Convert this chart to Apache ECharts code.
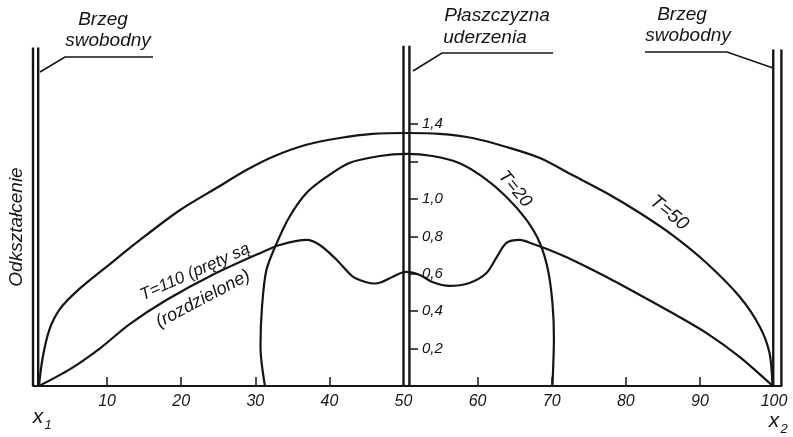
<!DOCTYPE html>
<html>
<head>
<meta charset="utf-8">
<script src="https://cdn.jsdelivr.net/npm/echarts@6/dist/echarts.min.js"></script>
<style>
  html, body { margin: 0; padding: 0; background: #fff; }
  #chart { width: 793px; height: 437px; }
</style>
</head>
<body>
<div id="chart"></div>
<script>
// Strain profiles along two colliding bars (x1 .. x2), at several times T
const t50X = [0.8, 1.3, 2.2, 3.6, 6.0, 10.0, 14.4, 19.8, 24.8, 28.8, 32.3, 36.9, 41.4, 45.8, 50.4, 54.9, 59.3, 63.9, 68.4, 72.8, 77.4, 81.9, 86.3, 90.9, 95.4, 98.1, 99.4, 99.8];
const t50Y = [0, 0.15, 0.3, 0.41, 0.51, 0.64, 0.78, 0.94, 1.06, 1.155, 1.225, 1.29, 1.326, 1.348, 1.353, 1.348, 1.326, 1.278, 1.219, 1.128, 1.032, 0.925, 0.807, 0.658, 0.476, 0.316, 0.176, 0];

const t20X = [31.3, 30.7, 30.9, 31.5, 32.9, 34.6, 36.9, 39.6, 42.7, 46.8, 50.4, 53.9, 57.5, 60.7, 63.9, 66.6, 68.4, 69.5, 70.1, 70.3, 70.1];
const t20Y = [0, 0.21, 0.42, 0.62, 0.765, 0.904, 1.032, 1.118, 1.193, 1.23, 1.241, 1.23, 1.193, 1.118, 1.011, 0.888, 0.765, 0.62, 0.444, 0.262, 0];

const t110X = [0.8, 5.0, 9.0, 13.0, 18.0, 24.0, 31.0, 33.3, 36.9, 38.7, 41.0, 43.2, 45.0, 46.0, 47.0, 48.5, 50.3, 52.2, 53.9, 56.2, 58.9, 61.2, 62.6, 63.9, 65.7, 67.5, 69.7, 72.8, 77.4, 81.9, 86.3, 90.9, 95.4, 99.4, 99.8];
const t110Y = [0, 0.09, 0.2, 0.33, 0.46, 0.59, 0.717, 0.754, 0.781, 0.754, 0.674, 0.583, 0.555, 0.548, 0.555, 0.583, 0.61, 0.594, 0.556, 0.535, 0.551, 0.604, 0.69, 0.765, 0.781, 0.759, 0.727, 0.674, 0.583, 0.487, 0.39, 0.283, 0.155, 0.016, 0];

// Bar ends and impact plane, each drawn as a double line
const wallX = [0, 0.7, 50, 50.8, 99.9, 101];
const wallTop = [1.81, 1.81, 1.82, 1.82, 1.80, 1.80];

// Axis ticks and labels
const xTickValues = [10, 20, 30, 40, 60, 70, 80, 90];
const xLabelValues = [10, 20, 30, 40, 50, 60, 70, 80, 90, 100];
const yTickValues = [0.2, 0.4, 0.6, 0.8, 1.0, 1.2, 1.4];
const yLabelValues = [0.2, 0.4, 0.6, 0.8, 1.0, 1.4];

const curveLabels = ['T=20', 'T=50', 'T=110 (pręty są', '(rozdzielone)'];
const noteLabels = ['Brzeg', 'swobodny', 'Płaszczyzna', 'uderzenia'];
const axisTitle = 'Odkształcenie';

const FAMILY = '"Liberation Sans", Arial, sans-serif';
const INK = '#151515';

function curve(name, xs, ys) {
  return {
    type: 'line', name: name, silent: true, z: 3,
    data: xs.map((x, i) => [x, ys[i]]),
    smooth: 0.3, symbol: 'none',
    lineStyle: { color: INK, width: 2.2 }
  };
}

const wallSeries = wallX.map((x, i) => ({
  type: 'line', silent: true, z: 4, symbol: 'none',
  data: [[x, 0], [x, wallTop[i]]],
  lineStyle: { color: INK, width: 2.4 }
}));

function txt(text, x, y, size, rot, align) {
  return {
    type: 'text', x: x, y: y, rotation: (rot || 0) * Math.PI / 180, z: 10,
    style: {
      text: text, fill: INK, align: align || 'center', verticalAlign: 'middle',
      font: 'italic ' + size + 'px ' + FAMILY
    }
  };
}

function leader(points) {
  return {
    type: 'polyline', z: 10,
    shape: { points: points },
    style: { stroke: INK, lineWidth: 1.6, fill: null }
  };
}

const chart = echarts.init(document.getElementById('chart'), null, { renderer: 'canvas' });

chart.setOption({
  animation: false,
  backgroundColor: '#ffffff',
  grid: { left: 33, right: 11.6, top: 12, bottom: 51 },
  xAxis: {
    type: 'value', min: 0, max: 101,
    axisLine: { show: true, onZero: false, lineStyle: { color: INK, width: 2 } },
    axisTick: { show: true, inside: true, length: 9, customValues: xTickValues,
      lineStyle: { color: INK, width: 1.5 } },
    axisLabel: { customValues: xLabelValues, color: INK, fontSize: 16, fontStyle: 'italic',
      fontFamily: FAMILY, margin: 8 },
    splitLine: { show: false }
  },
  yAxis: {
    type: 'value', min: 0, max: 2, position: 'left', offset: -377,
    axisLine: { show: false },
    axisTick: { show: true, inside: true, length: 8, customValues: yTickValues,
      lineStyle: { color: INK, width: 1.5 } },
    axisLabel: { inside: true, margin: 12, customValues: yLabelValues, color: INK,
      fontSize: 15, fontStyle: 'italic', fontFamily: FAMILY,
      formatter: v => v.toFixed(1).replace('.', ',') },
    splitLine: { show: false }
  },
  series: [
    curve('T=50', t50X, t50Y),
    curve('T=20', t20X, t20Y),
    curve('T=110', t110X, t110Y)
  ].concat(wallSeries),
  graphic: [
    txt(noteLabels[0], 103, 20, 19),
    txt(noteLabels[1], 108, 41, 19),
    txt(noteLabels[2], 497, 16, 19),
    txt(noteLabels[3], 485, 38, 19),
    txt(noteLabels[0], 682, 15, 19),
    txt(noteLabels[1], 688, 36, 19),
    leader([[40, 72], [65, 57], [153, 57]]),
    leader([[413, 71], [442, 53], [553, 53]]),
    leader([[645, 52], [727, 52], [773, 68]]),
    txt(axisTitle, 17, 227, 19, 90),
    txt(curveLabels[0], 515, 189, 18, -50),
    txt(curveLabels[1], 669, 213, 19, -39),
    txt(curveLabels[2], 195, 272, 17, 24),
    txt(curveLabels[3], 203, 299, 18, 28),
    txt('x', 38, 417, 21),
    txt('1', 48, 425, 13),
    txt('x', 774, 421, 21),
    txt('2', 784, 429, 13)
  ]
});
</script>
</body>
</html>
